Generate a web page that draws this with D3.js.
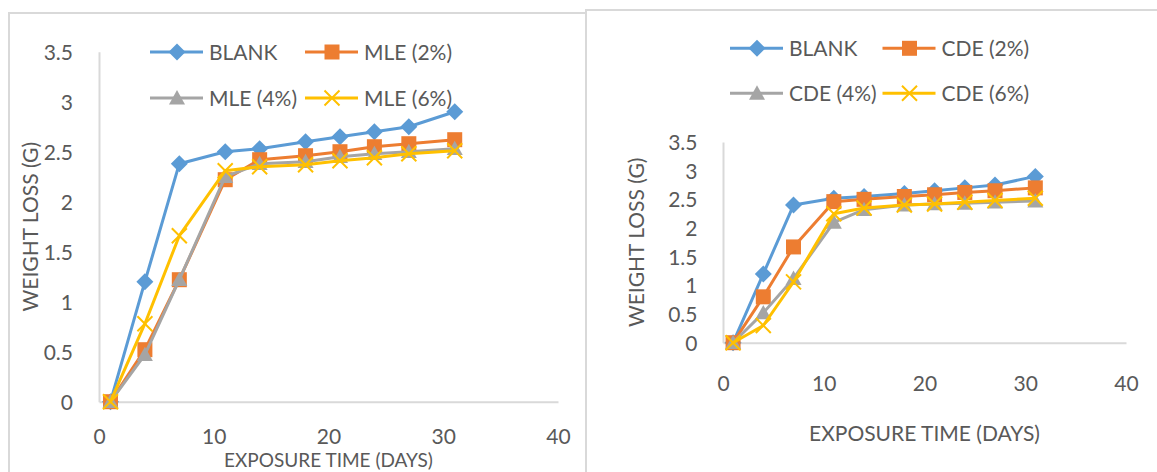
<!DOCTYPE html>
<html>
<head>
<meta charset="utf-8">
<script src="https://cdn.jsdelivr.net/npm/d3@7"></script>
<style>
  html, body { margin: 0; padding: 0; background: #fff; }
  svg { display: block; }
  text { font-family: Lato, "Open Sans", sans-serif; fill: #595959; }
</style>
</head>
<body>
<svg id="chart" width="1157" height="472"></svg>
<script>
// Exposure days shared by both panels
const days = [1, 4, 7, 11, 14, 18, 21, 24, 27, 31];

// Panel 1: MLE inhibitor
const mleNames = ["BLANK", "MLE (2%)", "MLE (4%)", "MLE (6%)"];
const mleBlank = [0, 1.2, 2.38, 2.5, 2.53, 2.6, 2.65, 2.7, 2.75, 2.9];
const mle2 = [0, 0.52, 1.22, 2.22, 2.42, 2.46, 2.5, 2.55, 2.58, 2.62];
const mle4 = [0, 0.47, 1.22, 2.25, 2.38, 2.4, 2.45, 2.48, 2.5, 2.53];
const mle6 = [0, 0.78, 1.66, 2.31, 2.35, 2.37, 2.41, 2.44, 2.48, 2.51];

// Panel 2: CDE inhibitor
const cdeNames = ["BLANK", "CDE (2%)", "CDE (4%)", "CDE (6%)"];
const cdeBlank = [0, 1.2, 2.4, 2.52, 2.55, 2.6, 2.65, 2.7, 2.75, 2.9];
const cde2 = [0, 0.8, 1.67, 2.46, 2.5, 2.55, 2.58, 2.62, 2.65, 2.7];
const cde4 = [0, 0.52, 1.12, 2.1, 2.32, 2.4, 2.42, 2.43, 2.45, 2.47];
const cde6 = [0, 0.3, 1.06, 2.25, 2.35, 2.4, 2.42, 2.45, 2.48, 2.52];

// Axis ticks and titles
const xTicks = [0, 10, 20, 30, 40];
const yTicks = [0, 0.5, 1, 1.5, 2, 2.5, 3, 3.5];
const xTitle = "EXPOSURE TIME (DAYS)";
const yTitle = "WEIGHT LOSS (G)";

const colors = ["#5B9BD5", "#ED7D31", "#A5A5A5", "#FFC000"];
const markerKinds = ["diamond", "square", "triangle", "x"];

const svg = d3.select("#chart");

// Marker shapes as d3.symbol types (size = squared width)
const symbolTypes = {
  diamond: { draw(c, s) { const r = Math.sqrt(s) / 2; c.moveTo(0, -r); c.lineTo(r, 0); c.lineTo(0, r); c.lineTo(-r, 0); c.closePath(); } },
  square: { draw(c, s) { const r = Math.sqrt(s) / 2; c.rect(-r, -r, 2 * r, 2 * r); } },
  triangle: { draw(c, s) { const r = Math.sqrt(s) / 2; c.moveTo(0, -r); c.lineTo(r, r * 0.8); c.lineTo(-r, r * 0.8); c.closePath(); } },
  x: { draw(c, s) { const r = Math.sqrt(s) / 2; c.moveTo(-r, -r); c.lineTo(r, r); c.moveTo(r, -r); c.lineTo(-r, r); } }
};
const symbolSizes = { diamond: 17 * 17, square: 15 * 15, triangle: 16 * 16, x: 15 * 15 };

function drawMarker(g, kind, color, cx, cy) {
  const p = d3.symbol().type(symbolTypes[kind]).size(symbolSizes[kind])();
  const m = g.append("path").attr("d", p).attr("transform", `translate(${cx},${cy})`);
  if (kind === "x") m.attr("fill", "none").attr("stroke", color).attr("stroke-width", 2);
  else m.attr("fill", color);
}

function drawPanel(cfg) {
  const g = svg.append("g");
  // chart area frame
  g.append("rect")
    .attr("x", cfg.frame[0]).attr("y", cfg.frame[1])
    .attr("width", cfg.frame[2]).attr("height", cfg.frame[3])
    .attr("fill", "#fff").attr("stroke", "#D9D9D9").attr("stroke-width", 2);

  const x = d3.scaleLinear().domain([0, 40]).range(cfg.xRange);
  const y = d3.scaleLinear().domain([0, 3.5]).range(cfg.yRange);

  // x axis along zero line
  const xa = g.append("g").attr("transform", `translate(0,${y(0)})`)
    .call(d3.axisBottom(x).tickValues(xTicks).tickSize(0).tickSizeOuter(0).tickFormat(d3.format("d")));
  xa.select(".domain").attr("stroke", "#D9D9D9").attr("stroke-width", 2);
  xa.selectAll("text").attr("y", cfg.xTickOffset).attr("dy", "0.36em")
    .attr("font-size", 21).attr("font-family", "Lato").style("fill", "#595959");

  // y axis
  const ya = g.append("g").attr("transform", `translate(${x(0)},0)`)
    .call(d3.axisLeft(y).tickValues(yTicks).tickSize(0).tickSizeOuter(0).tickFormat(d => d3.format("")(d)));
  ya.select(".domain").attr("stroke", "#D9D9D9").attr("stroke-width", 2);
  ya.selectAll("text").attr("x", -cfg.yTickGap).attr("dy", "0.36em")
    .attr("font-size", 21).attr("font-family", "Lato").style("fill", "#595959");

  // axis titles
  g.append("text").attr("x", (cfg.xRange[0] + cfg.xRange[1]) / 2).attr("y", cfg.xTitleY)
    .attr("text-anchor", "middle").attr("dy", "0.36em").attr("font-size", cfg.xTitleSize).text(xTitle);
  const yc = (cfg.yRange[0] + cfg.yRange[1]) / 2;
  g.append("text").attr("transform", `translate(${cfg.yTitleX},${yc}) rotate(-90)`)
    .attr("text-anchor", "middle").attr("dy", "0.36em").attr("font-size", 21).text(yTitle);

  // series: line then markers
  const line = d3.line().x((d, i) => x(days[i])).y(d => y(d));
  cfg.series.forEach((vals, k) => {
    g.append("path").attr("d", line(vals)).attr("fill", "none")
      .attr("stroke", colors[k]).attr("stroke-width", 3)
      .attr("stroke-linejoin", "round").attr("stroke-linecap", "round");
    vals.forEach((v, i) => drawMarker(g, markerKinds[k], colors[k], x(days[i]), y(v)));
  });

  // legend, two columns by two rows
  cfg.names.forEach((name, k) => {
    const col = k % 2, row = Math.floor(k / 2);
    const lx = cfg.legendCols[col], ly = cfg.legendRows[row];
    g.append("line").attr("x1", lx).attr("x2", lx + 53).attr("y1", ly).attr("y2", ly)
      .attr("stroke", colors[k]).attr("stroke-width", 3);
    drawMarker(g, markerKinds[k], colors[k], lx + 27, ly);
    g.append("text").attr("x", lx + 59).attr("y", ly).attr("dy", "0.36em")
      .attr("font-size", 21).text(name);
  });
}

drawPanel({
  frame: [9, 13, 620, 520],
  xRange: [99, 558], yRange: [401.7, 51.7],
  xTickOffset: 34.5, yTickGap: 26,
  xTitleY: 460.4, xTitleSize: 19, yTitleX: 30,
  legendCols: [150, 305], legendRows: [52, 98],
  names: mleNames, series: [mleBlank, mle2, mle4, mle6]
});

drawPanel({
  frame: [586, 10, 620, 520],
  xRange: [723, 1126], yRange: [342.7, 142],
  xTickOffset: 41, yTickGap: 25.5,
  xTitleY: 433, xTitleSize: 21, yTitleX: 636,
  legendCols: [730, 882.5], legendRows: [48.3, 93.3],
  names: cdeNames, series: [cdeBlank, cde2, cde4, cde6]
});
</script>
</body>
</html>
